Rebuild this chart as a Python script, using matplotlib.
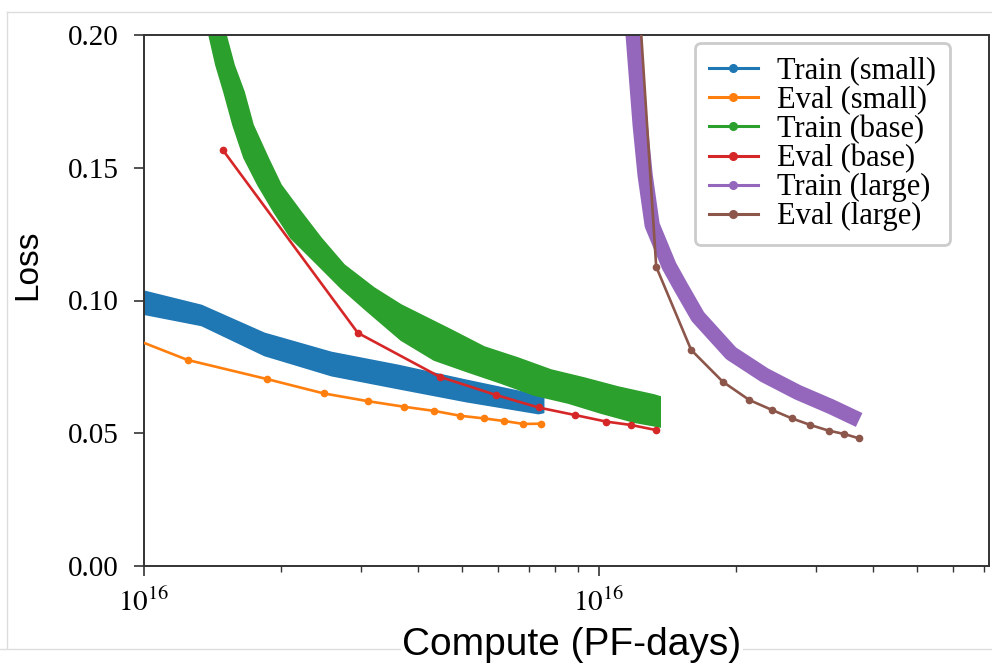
import numpy as np
import matplotlib
matplotlib.use("Agg")
import matplotlib.pyplot as plt
from matplotlib.lines import Line2D
from matplotlib.ticker import FixedLocator, FixedFormatter, LogLocator, NullFormatter

plt.rcParams['font.family'] = ['Liberation Serif', 'DejaVu Serif']
plt.rcParams['mathtext.fontset'] = 'stix'

# train (small): noisy band, upper / lower envelope
small_x = [0.98, 1.335, 1.835, 2.576, 3.617, 5.102, 7.345, 7.534]
small_hi = [0.1040, 0.0983, 0.0878, 0.0806, 0.0757, 0.0701, 0.0644, 0.0637]
small_lo = [0.0953, 0.0908, 0.0795, 0.0719, 0.0670, 0.0621, 0.0576, 0.0580]

# train (base): envelope edges read separately
base_hi_x = [1.476, 1.514, 1.577, 1.659, 1.736, 1.873, 2.000, 2.214, 2.449, 2.752,
             3.203, 3.672, 4.729, 5.589, 6.637, 7.844, 9.269, 11.01, 13.21, 13.62]
base_hi_y = [0.2075, 0.2000, 0.1887, 0.1785, 0.1661, 0.1537, 0.1435, 0.1333, 0.1235, 0.1134,
             0.1047, 0.0983, 0.0889, 0.0825, 0.0783, 0.0738, 0.0708, 0.0674, 0.0644, 0.0637]
base_lo_x = [1.362, 1.390, 1.439, 1.499, 1.569, 1.659, 1.780, 1.931, 2.104, 2.412, 2.710,
             3.075, 3.672, 4.339, 5.153, 6.088, 7.195, 8.550, 10.10, 11.94, 13.62]
base_lo_y = [0.2075, 0.2000, 0.1887, 0.1785, 0.1661, 0.1537, 0.1435, 0.1333, 0.1235, 0.1134, 0.1047,
             0.0964, 0.0851, 0.0776, 0.0731, 0.0689, 0.0644, 0.0614, 0.0576, 0.0542, 0.0524]

# train (large): centre of the band
large_x = [11.70, 11.88, 12.31, 12.62, 13.08, 14.25, 15.14, 16.48, 19.50, 23.08, 27.33, 32.35, 37.27]
large_y = [0.2132, 0.2000, 0.1661, 0.1473, 0.1284, 0.1130, 0.1049, 0.0939, 0.0801, 0.0719, 0.0654, 0.0600, 0.0550]

# eval curves
eval_small_x = [0.62, 1.247, 1.864, 2.483, 3.10, 3.723, 4.345, 4.95, 5.58, 6.19, 6.82, 7.46]
eval_small_y = [0.098, 0.0776, 0.0704, 0.0650, 0.0621, 0.0600, 0.0584, 0.0566, 0.0556, 0.0546, 0.0535, 0.0536]
eval_base_x = [1.49, 2.95, 4.46, 5.94, 7.36, 8.83, 10.36, 11.76, 13.35]
eval_base_y = [0.1567, 0.0878, 0.0713, 0.0644, 0.0597, 0.0569, 0.0544, 0.0531, 0.0512]
eval_large_x = [10.75, 13.35, 15.93, 18.70, 21.39, 23.97, 26.52, 29.14, 31.92, 34.6, 37.22]
eval_large_y = [0.363, 0.1127, 0.0814, 0.0694, 0.0625, 0.0588, 0.0556, 0.0531, 0.0510, 0.0497, 0.0481]

labels = ['Train (small)', 'Eval (small)', 'Train (base)', 'Eval (base)', 'Train (large)', 'Eval (large)']
colors = ['#1f77b4', '#ff7f0e', '#2ca02c', '#d62728', '#9467bd', '#8c564b']
xtick_text = [r'$10^{16}$', r'$10^{16}$']

fig = plt.figure(figsize=(9.92, 6.65), dpi=100)
ax = fig.add_axes([144 / 992, 1 - 566 / 665, 845 / 992, 531 / 665])

ax.fill_between(small_x, small_lo, small_hi, color=colors[0], lw=1.2, zorder=2)
ax.fill(np.concatenate([base_hi_x, base_lo_x[::-1]]),
        np.concatenate([base_hi_y, base_lo_y[::-1]]), color=colors[2], lw=1.2, zorder=2)
ax.plot(large_x, large_y, color=colors[4], lw=11, solid_capstyle='butt', zorder=2)

ax.plot(eval_small_x, eval_small_y, '-o', color=colors[1], lw=1.9, ms=4.5, zorder=3)
ax.plot(eval_base_x, eval_base_y, '-o', color=colors[3], lw=1.9, ms=4.5, zorder=3)
ax.plot(eval_large_x, eval_large_y, '-o', color=colors[5], lw=1.9, ms=4.5, zorder=3)

ax.set_xscale('log')
ax.set_xlim(1, 71.9)
ax.set_ylim(0, 0.2)
ax.xaxis.set_major_locator(FixedLocator([1, 10]))
ax.xaxis.set_major_formatter(FixedFormatter(xtick_text))
ax.xaxis.set_minor_locator(LogLocator(base=10, subs=np.arange(2, 10)))
ax.xaxis.set_minor_formatter(NullFormatter())
ax.set_yticks([0, 0.05, 0.10, 0.15, 0.20])
ax.set_yticklabels(['0.00', '0.05', '0.10', '0.15', '0.20'])

ax.tick_params(axis='both', which='major', labelsize=21, length=7, width=1.2, color='#333333')
ax.tick_params(axis='x', which='major', pad=9)
ax.tick_params(axis='y', which='major', pad=11)
ax.tick_params(axis='x', which='minor', length=4, width=1.0, color='#333333')
for s in ax.spines.values():
    s.set_color('#333333')
    s.set_linewidth(1.4)

handles = [Line2D([], [], color=c, lw=2.2, marker='o', ms=5.5) for c in colors]
leg = ax.legend(handles, labels, loc='upper left', bbox_to_anchor=(0.652, 0.985),
                borderaxespad=0, fontsize=22, labelspacing=0.0, handlelength=1.6,
                handletextpad=0.65, borderpad=0.45, framealpha=1, edgecolor='#cccccc')
leg.get_frame().set_linewidth(2)

fig.text(28 / 992, 1 - 265 / 665, 'Loss', rotation=90, ha='center', va='center',
         family=['Liberation Sans', 'DejaVu Sans'], fontsize=24)
fig.text(572 / 992, 1 - 655 / 665, 'Compute (PF-days)', ha='center', va='baseline',
         family=['Liberation Sans', 'DejaVu Sans'], fontsize=28,
         bbox=dict(facecolor='white', edgecolor='none', pad=1), zorder=5)

# light frame of the original screenshot
fig.add_artist(Line2D([7 / 992, 1], [1 - 12 / 665, 1 - 12 / 665], color='#dddddd', lw=1, transform=fig.transFigure))
fig.add_artist(Line2D([7 / 992, 7 / 992], [1 - 12 / 665, 1 - 648 / 665], color='#dddddd', lw=1, transform=fig.transFigure))
fig.add_artist(Line2D([0, 1], [1 - 649 / 665, 1 - 649 / 665], color='#dddddd', lw=1, transform=fig.transFigure, zorder=1))

fig.savefig('out.png', dpi=100)
